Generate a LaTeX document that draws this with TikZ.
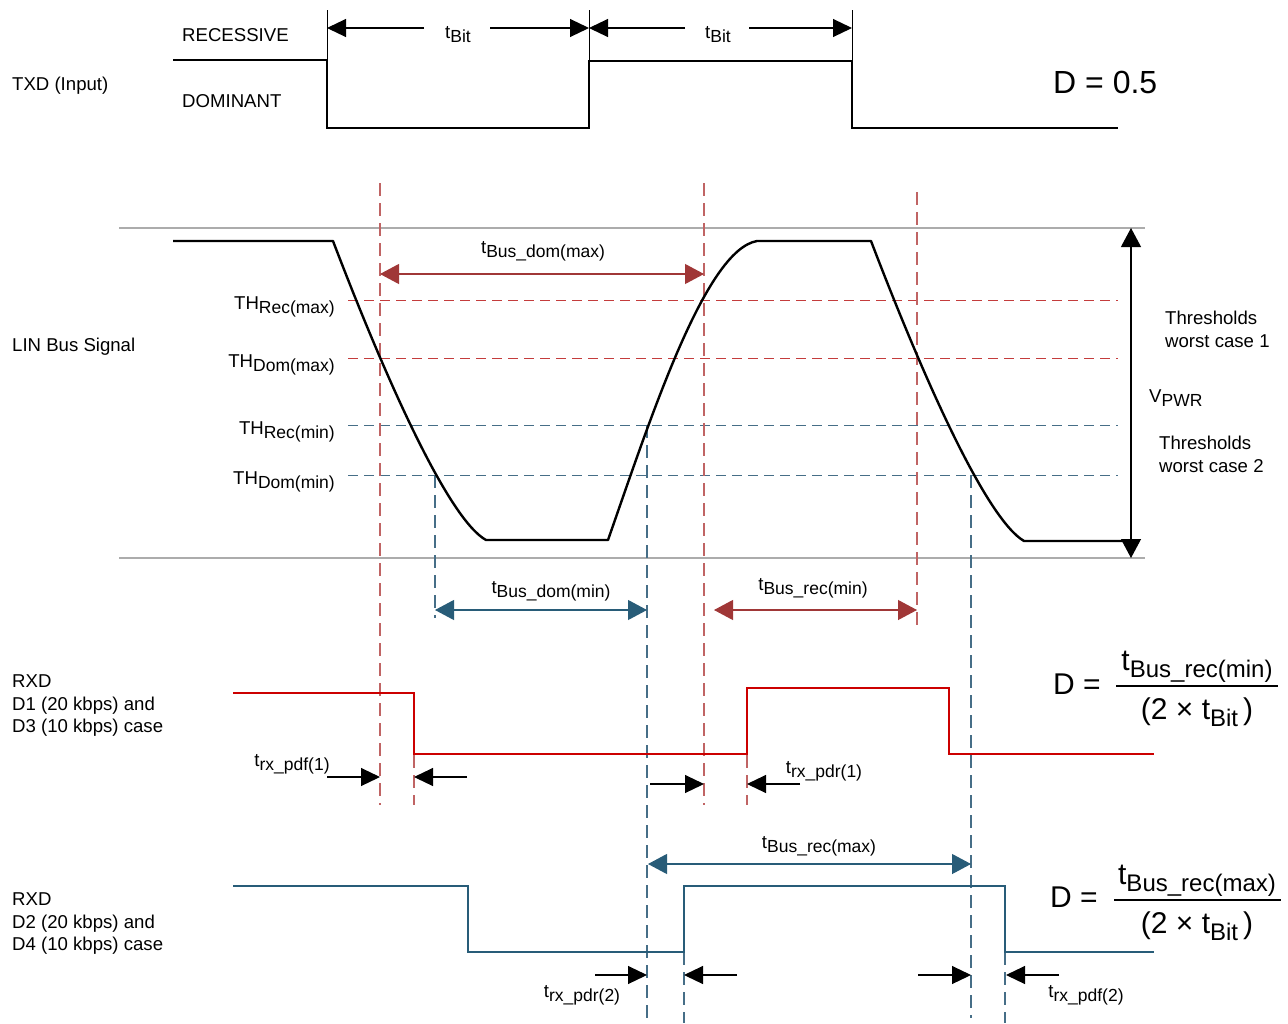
\documentclass[tikz,border=0pt]{standalone}
\usepackage{fontspec}
\setmainfont{Liberation Sans}
\usetikzlibrary{arrows.meta}
\definecolor{redv}{RGB}{192,100,100}
\definecolor{redh}{RGB}{196,60,60}
\definecolor{bluev}{RGB}{70,110,135}
\definecolor{darkred}{RGB}{160,55,55}
\definecolor{darkblue}{RGB}{40,92,120}
\definecolor{rxdred}{RGB}{204,0,0}
\definecolor{busgray}{RGB}{172,172,172}
\newcommand{\lsub}[2]{#1\raisebox{-4pt}{\fontsize{17.5}{17.5}\selectfont #2}}
\newcommand{\fsub}[2]{#1\raisebox{-7pt}{\fontsize{24}{24}\selectfont #2}}
\begin{document}
\begin{tikzpicture}[x=1pt,y=-1pt,
  txt/.style={inner sep=0pt, font=\fontsize{18.6}{22.5}\selectfont},
  bigtxt/.style={inner sep=0pt, font=\fontsize{30}{30}\selectfont},
  wave/.style={line width=2.2pt, line join=miter},
  busline/.style={line width=2.4pt, line join=round},
  tickline/.style={line width=0.8pt},
  tipB/.style={-{Triangle[length=19pt,width=18pt]}},
  blackdim/.style={line width=1.1pt, tipB},
  reddim/.style={line width=1.1pt, darkred, {Triangle[length=19pt,width=20pt]}-{Triangle[length=19pt,width=20pt]}},
  bluedim/.style={line width=1.1pt, darkblue, {Triangle[length=19pt,width=20pt]}-{Triangle[length=19pt,width=20pt]}},
  vred/.style={redv, line width=1.1pt, dash pattern=on 13pt off 7pt},
  vblue/.style={bluev, line width=1.1pt, dash pattern=on 13pt off 7pt},
  hred/.style={redh, line width=1pt, dash pattern=on 10pt off 6pt},
  hblue/.style={bluev, line width=1pt, dash pattern=on 10pt off 6pt},
  grayline/.style={busgray, line width=2.5pt}
]
\useasboundingbox (0,0) rectangle (1288,1023);

% ---------- TXD ----------
\node[txt, anchor=base west] (txd) at (12,90) {TXD (Input)};
\node[txt, anchor=base west] (rec) at (182,41.5) {RECESSIVE};
\node[txt, anchor=base west] (dom) at (182,107) {DOMINANT};
\draw[wave] (173,60) -- (327,60) -- (327,128) -- (589,128) -- (589,61) -- (852,61) -- (852,128) -- (1118,128);
\coordinate (e1t) at (327,10); \coordinate (e1b) at (327,60);
\coordinate (e2t) at (589,10); \coordinate (e2b) at (589,61);
\coordinate (e3t) at (852,10); \coordinate (e3b) at (852,61);
\draw[tickline] (e1t) -- (e1b);
\draw[tickline] (e2t) -- (e2b);
\draw[tickline] (e3t) -- (e3b);
\node[txt, anchor=base] (tb1) at (458,38) {\lsub{t}{Bit}};
\node[txt, anchor=base] (tb2) at (718,38) {\lsub{t}{Bit}};
\coordinate (a1l) at (424,28); \coordinate (a1r) at (490,28);
\coordinate (a2l) at (685,28); \coordinate (a2r) at (749,28);
\draw[blackdim] (a1l) -- (e1b |- a1l);
\draw[blackdim] (a1r) -- (e2b |- a1r);
\draw[blackdim] (a2l) -- (e2b |- a2l);
\draw[blackdim] (a2r) -- (e3b |- a2r);
\node[inner sep=0pt, anchor=base west, font=\fontsize{32}{32}\selectfont] (d05) at (1053,93.5) {D = 0.5};

% ---------- LIN bus ----------
\node[txt, anchor=base west] (lin) at (12,351) {LIN Bus Signal};
\coordinate (gtl) at (119,228); \coordinate (gtr) at (1145,228);
\coordinate (gbl) at (119,558); \coordinate (gbr) at (1145,558);
\draw[grayline] (gtl) -- (gtr);
\draw[grayline] (gbl) -- (gbr);

% thresholds
\draw[hred]  (348,300) -- (1118,300);
\draw[hred]  (348,358) -- (1118,358);
\draw[hblue] (348,425) -- (1118,425);
\draw[hblue] (348,475) -- (1118,475);
\node[txt, anchor=base east] (threcmax) at (335,309) {\lsub{TH}{Rec(max)}};
\node[txt, anchor=base east] (thdommax) at (335,367) {\lsub{TH}{Dom(max)}};
\node[txt, anchor=base east] (threcmin) at (335,434) {\lsub{TH}{Rec(min)}};
\node[txt, anchor=base east] (thdommin) at (335,484) {\lsub{TH}{Dom(min)}};

% vertical dashed lines
\draw[vred] (380,183) -- (380,805);
\draw[vred] (704,183) -- (704,805);
\draw[vred] (917,192) -- (917,625);
\draw[vred] (414,755) -- (414,805);
\draw[vred] (747,755) -- (747,805);
\draw[vblue] (435,475) -- (435,618);
\draw[vblue] (647,425) -- (647,1023);
\draw[vblue] (971,475) -- (971,1018);
\draw[vblue] (684,952) -- (684,1023);
\draw[vblue] (1005,952) -- (1005,1023);

% bus waveform
\draw[busline] (173,241) -- (333,241) .. controls (390,390) and (450,520) .. (486,540) -- (608,540)
  .. controls (650,420) and (705,250) .. (757,241) -- (871,241)
  .. controls (928,390) and (988,520) .. (1024,541) -- (1125,541);

% bus timing arrows
\coordinate (bdmaxL) at (380,274); \coordinate (bdmaxR) at (704,274);
\draw[reddim] (bdmaxL) -- (bdmaxR);
\node[txt, anchor=base] (lbdmax) at (543,253) {\lsub{t}{Bus\_dom(max)}};
\coordinate (bdminL) at (435,610); \coordinate (bdminR) at (647,610);
\draw[bluedim] (bdminL) -- (bdminR);
\node[txt, anchor=base] (lbdmin) at (551,593) {\lsub{t}{Bus\_dom(min)}};
\coordinate (brminL) at (714,610); \coordinate (brminR) at (917,610);
\draw[reddim] (brminL) -- (brminR);
\node[txt, anchor=base] (lbrmin) at (813,590) {\lsub{t}{Bus\_rec(min)}};

% VPWR
\coordinate (vpt) at (1131,228); \coordinate (vpb) at (1131,558);
\draw[line width=1.1pt, {Triangle[length=19pt,width=20pt]}-{Triangle[length=19pt,width=20pt]}] (vpt) -- (vpb);
\node[txt, anchor=base west] (vpwr) at (1149,402) {\lsub{V}{PWR}};
\node[txt, anchor=north west, align=left] (th1) at (1165,311) {Thresholds\\worst case 1};
\node[txt, anchor=north west, align=left] (th2) at (1159,436) {Thresholds\\worst case 2};

% ---------- RXD 1 ----------
\node[txt, anchor=north west, align=left] (rxd1) at (12,674.5) {RXD\\D1 (20 kbps) and\\D3 (10 kbps) case};
\draw[rxdred, line width=2.4pt, line join=miter] (233,693) -- (414,693) -- (414,754) -- (747,754) -- (747,688) -- (949,688) -- (949,754) -- (1154,754);
\coordinate (p1a) at (327,777); \coordinate (p1b) at (467,777);
\draw[blackdim] (p1a) -- (380,777);
\draw[blackdim] (p1b) -- (414,777);
\node[txt, anchor=base] (lpdf1) at (292,766) {\lsub{t}{rx\_pdf(1)}};
\coordinate (p2a) at (650,784); \coordinate (p2b) at (800,784);
\draw[blackdim] (p2a) -- (704,784);
\draw[blackdim] (p2b) -- (747,784);
\node[txt, anchor=base] (lpdr1) at (824,773) {\lsub{t}{rx\_pdr(1)}};

\node[bigtxt, anchor=base west] (D1) at (1053,694) {D =};
\node[bigtxt, anchor=base] (n1) at (1197,670) {\fsub{t}{Bus\_rec(min)}};
\draw[line width=1.1pt] (1116,686) -- (1278,686);
\node[bigtxt, anchor=base] (d1) at (1197,719) {(2 × \fsub{t}{Bit}\,)};

% ---------- RXD 2 ----------
\node[txt, anchor=north west, align=left] (rxd2) at (12,892.5) {RXD\\D2 (20 kbps) and\\D4 (10 kbps) case};
\draw[darkblue, line width=2.4pt, line join=miter] (233,886) -- (468,886) -- (468,952) -- (684,952) -- (684,886) -- (1005,886) -- (1005,952) -- (1154,952);
\coordinate (brmaxL) at (648,864); \coordinate (brmaxR) at (971,864);
\draw[bluedim] (brmaxL) -- (brmaxR);
\node[txt, anchor=base] (lbrmax) at (819,848) {\lsub{t}{Bus\_rec(max)}};
\coordinate (p3a) at (595,975); \coordinate (p3b) at (737,975);
\draw[blackdim] (p3a) -- (647,975);
\draw[blackdim] (p3b) -- (684,975);
\node[txt, anchor=base] (lpdr2) at (582,997) {\lsub{t}{rx\_pdr(2)}};
\coordinate (p4a) at (918,975); \coordinate (p4b) at (1059,975);
\draw[blackdim] (p4a) -- (971,975);
\draw[blackdim] (p4b) -- (1006,975);
\node[txt, anchor=base] (lpdf2) at (1086,997) {\lsub{t}{rx\_pdf(2)}};

\node[bigtxt, anchor=base west] (D2) at (1050,907) {D =};
\node[bigtxt, anchor=base] (n2) at (1197,884) {\fsub{t}{Bus\_rec(max)}};
\draw[line width=1.1pt] (1114,900) -- (1281,900);
\node[bigtxt, anchor=base] (d2) at (1197,933) {(2 × \fsub{t}{Bit}\,)};
\end{tikzpicture}
\end{document}
